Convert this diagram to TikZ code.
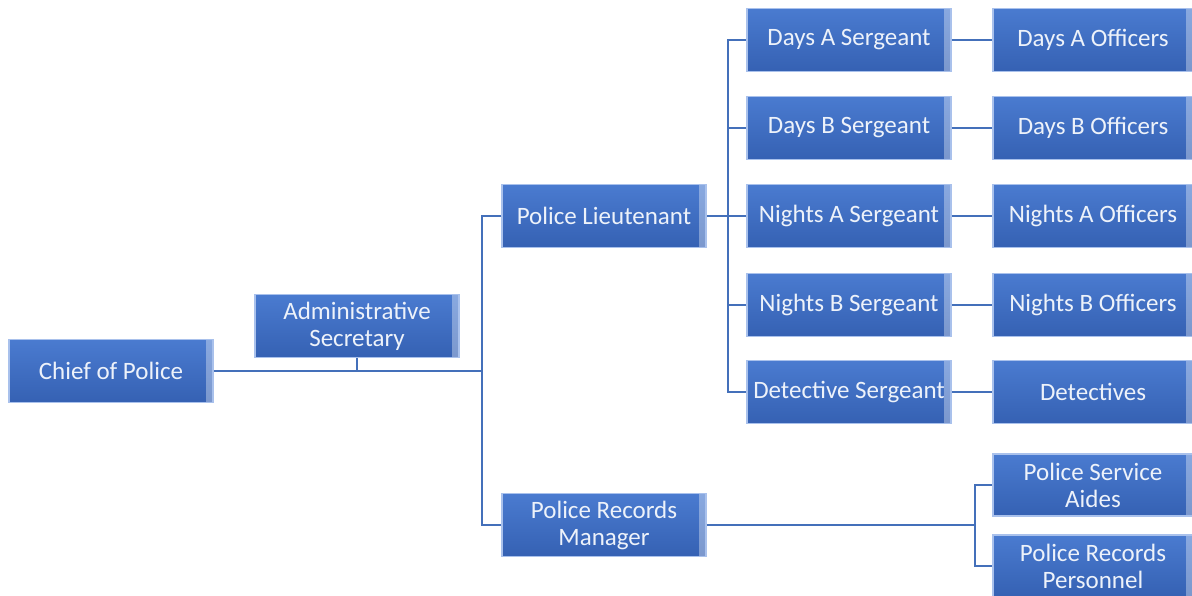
\documentclass[tikz,border=0pt]{standalone}
\usepackage{fontspec}
\setmainfont{Carlito}

\definecolor{unitblue}{HTML}{4A7BD0}
\definecolor{unitdark}{HTML}{3561B3}
\definecolor{unitedge}{HTML}{A9C1EC}
\definecolor{bevellight}{HTML}{7FA2E0}
\definecolor{linkblue}{HTML}{4470BA}

\tikzset{
  unit/.style={rectangle, top color=unitblue, bottom color=unitdark,
    draw=unitedge, line width=1.5pt, minimum width=204pt, minimum height=63pt,
    inner sep=1pt, align=center, text=white!90!unitblue,
    font=\fontsize{25}{27}\selectfont,
    path picture={
      \fill[bevellight, opacity=0.8] (path picture bounding box.north west)
        -- (path picture bounding box.north east)
        -- ([shift={(-7pt,7pt)}]path picture bounding box.north east)
        -- ([shift={(7pt,7pt)}]path picture bounding box.north west) -- cycle;
      \fill[white, opacity=0.35] (path picture bounding box.north east)
        -- (path picture bounding box.south east)
        -- ([shift={(-7pt,-7pt)}]path picture bounding box.south east)
        -- ([shift={(-7pt,7pt)}]path picture bounding box.north east) -- cycle;
    }},
  staff/.style={unit, minimum width=200pt},
  link/.style={draw=linkblue, line width=1.8pt}
}

\begin{document}
\begin{tikzpicture}[x=1pt, y=-1pt]
\useasboundingbox (0,0) rectangle (1192,595);

% Command
\node[unit] (chief) at (111,371) {Chief of Police};
\node[unit] (admin) at (357,326) {Administrative\\Secretary};
\node[unit] (lt) at (604,216) {Police Lieutenant};
\node[unit] (rm) at (604,525) {Police Records\\Manager};

% Sergeants
\node[unit] (daysA) at (849,40) {Days A Sergeant};
\node[unit] (daysB) at (849,128) {Days B Sergeant};
\node[unit] (nightsA) at (849,216) {Nights A Sergeant};
\node[unit] (nightsB) at (849,305) {Nights B Sergeant};
\node[unit] (detsgt) at (849,392) {Detective Sergeant};

% Officers
\node[staff] (daysAoff) at (1093,40) {Days A Officers};
\node[staff] (daysBoff) at (1093,128) {Days B Officers};
\node[staff] (nightsAoff) at (1093,216) {Nights A Officers};
\node[staff] (nightsBoff) at (1093,305) {Nights B Officers};
\node[staff] (dets) at (1093,392) {Detectives};

% Records staff
\node[staff, minimum height=62pt] (aides) at (1093,485) {Police Service\\Aides};
\node[staff, minimum height=62pt] (personnel) at (1093,566) {Police Records\\Personnel};

% Bus points
\coordinate (mainbus) at (482,371);
\coordinate (ltbus) at (728,216);
\coordinate (rmbus) at (975,525);

% Connectors
\draw[link] (chief.east) -- (mainbus);
\draw[link] (admin.south) -- (admin.south |- mainbus);
\draw[link] (lt.west) -| (mainbus) |- (rm.west);
\draw[link] (lt.east) -- (ltbus);
\foreach \sgt/\off in {daysA/daysAoff, daysB/daysBoff, nightsA/nightsAoff,
                       nightsB/nightsBoff, detsgt/dets}{
  \draw[link] (ltbus) |- (\sgt.west);
  \draw[link] (\sgt.east) -- (\off.west);
}
\draw[link] (rm.east) -- (rmbus);
\draw[link] (rmbus) |- (aides.west);
\draw[link] (rmbus) |- (personnel.west);

\end{tikzpicture}
\end{document}
